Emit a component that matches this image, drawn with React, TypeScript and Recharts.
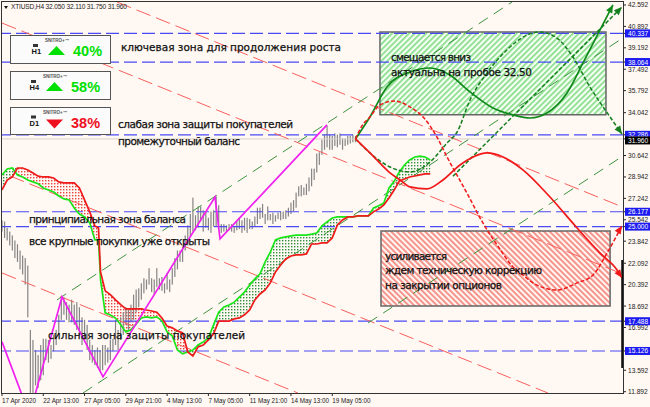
import { Area, Bar, ComposedChart, Line, ReferenceArea, ReferenceLine, XAxis, YAxis } from "recharts";

// bar index of each x axis label (one label every 16 H4 bars)
const timeTicks = [0, 16, 32, 48, 64, 80, 96, 112, 128];
const timeLabels = ["17 Apr 2020", "22 Apr 13:00", "27 Apr 05:00", "29 Apr 21:00", "4 May 13:00", "7 May 05:00", "11 May 21:00", "14 May 13:00", "19 May 05:00"];
const priceTicks = [42.592, 40.892, 39.192, 37.492, 35.792, 34.042, 30.642, 28.942, 27.242, 25.542, 23.842, 22.092, 20.392, 18.692, 16.992, 13.592, 11.892];
const levels = [40.337, 38.064, 32.286, 26.177, 25.0, 17.488, 15.126];
const lastPrice = 31.96;

const highs = [
  25.5, 25.4, 24.9, 24.6, 24.3, 23.9, 23.6, 23.1, 22.7, 22.5,
  21.9, 16.8, 16.0, 15.2, 14.8, 15.6, 16.1, 16.1, 16.0, 15.6,
  16.4, 16.8, 18.0, 19.2, 19.4, 19.0, 18.8, 19.2, 18.8, 19.0,
  18.6, 17.8, 17.6, 17.2, 16.0, 15.6, 15.2, 15.4, 15.2, 15.6,
  15.6, 15.4, 16.0, 16.1, 17.6, 16.8, 17.8, 18.2, 18.6, 18.4,
  18.8, 19.6, 20.0, 20.1, 20.5, 20.9, 20.8, 21.7, 20.9, 20.8,
  21.7, 20.9, 21.0, 20.5, 21.3, 20.8, 21.7, 22.5, 23.1, 23.1,
  23.4, 24.3, 25.1, 26.0, 27.3, 25.9, 26.6, 26.6, 26.3, 26.2,
  25.7, 26.2, 26.3, 27.4, 26.7, 25.2, 25.2, 25.1, 25.2, 25.2,
  25.0, 25.4, 25.7, 25.5, 25.7, 25.7, 25.6, 25.4, 25.8, 26.5,
  26.5, 26.8, 26.0, 26.6, 26.0, 26.1, 25.9, 26.1, 26.2, 26.2,
  26.3, 26.5, 26.9, 27.1, 27.7, 28.2, 28.3, 28.1, 28.4, 28.9,
  29.6, 29.6, 30.8, 30.9, 31.9, 32.3, 33.0, 32.3, 32.2, 32.4,
  32.3, 32.4, 32.0, 32.0, 32.2, 32.2, 32.3, 32.2,
];
const lows = [
  24.6, 24.1, 23.9, 23.5, 23.1, 22.5, 22.2, 21.6, 21.2, 20.4,
  17.8, 11.8, 11.8, 12.4, 12.2, 12.8, 13.2, 14.4, 14.2, 14.5,
  15.1, 15.6, 16.4, 17.6, 18.0, 17.6, 17.4, 17.4, 17.2, 16.8,
  16.4, 15.6, 16.0, 15.2, 14.4, 14.2, 14.0, 13.8, 13.5, 13.6,
  14.0, 14.2, 14.4, 15.1, 15.6, 15.2, 16.0, 16.4, 17.2, 16.8,
  17.4, 17.6, 18.2, 18.6, 19.2, 19.7, 20.0, 20.4, 19.8, 19.6,
  20.2, 20.0, 19.9, 19.7, 20.0, 19.8, 20.4, 21.0, 21.6, 22.2,
  22.2, 23.1, 23.5, 24.2, 24.6, 24.7, 24.9, 25.4, 24.6, 24.9,
  24.7, 24.5, 25.0, 25.0, 24.9, 24.5, 24.6, 24.6, 24.7, 24.6,
  24.5, 24.7, 24.8, 24.5, 24.7, 24.5, 24.8, 24.8, 25.0, 25.2,
  25.6, 25.7, 25.2, 25.5, 25.5, 25.2, 25.4, 25.6, 25.5, 25.6,
  25.6, 25.8, 26.0, 26.2, 26.5, 27.4, 27.4, 27.5, 27.5, 27.8,
  28.2, 28.7, 29.3, 29.9, 30.7, 31.1, 31.3, 31.1, 31.1, 31.4,
  31.3, 31.5, 31.1, 31.4, 31.5, 31.6, 31.7, 31.7,
];

// ichimoku cloud, both spans share these bars
const cloudBars = [
  0, 2, 4, 6, 8, 10, 12, 14, 16, 18, 20, 22, 24, 26, 28, 30, 32, 34, 36, 37.4, 38.2,
  40, 42, 44, 46, 48, 50, 52, 54, 56, 58, 60, 62, 64, 66, 68, 70, 72, 74, 76, 78, 80,
  82, 84, 86, 88, 90, 92, 94, 96, 98, 100, 102, 104, 106, 108, 110, 112, 114, 116, 118, 120,
  122, 124, 126, 128, 130, 132, 134, 136, 138, 140, 142, 144, 146, 148, 150, 152, 154, 156, 158, 160, 162, 164, 166,
];
const spanRed = [
  27.91, 28.7, 28.94, 29.65, 29.65, 29.5, 29.25, 29.0, 28.94, 28.94, 28.86, 28.55, 28.47, 28.47, 28.47, 28.07, 27.12, 26.17, 25.05, 24.9, 21.4,
  19.9, 19.6, 19.18, 18.8, 18.47, 18.47, 18.47, 18.47, 18.38, 18.3, 18.2, 17.75, 17.1, 16.96, 16.72, 16.56, 15.05, 14.73, 15.45, 15.6, 16.0,
  16.48, 17.5, 17.5, 17.5, 17.67, 17.75, 18.0, 18.38, 19.18, 19.65, 19.97, 20.53, 21.4, 21.95, 22.43, 22.67, 22.75, 22.75, 22.83, 23.62,
  23.62, 23.7, 23.7, 24.1, 25.13, 25.53, 25.77, 25.77, 25.85, 25.85, 25.85, 26.17, 26.4, 26.72, 27.27, 27.9, 28.62, 28.78, 28.94, 29.02, 29.1, 29.18, 29.18,
];
const spanGreen = [
  29.1, 29.57, 29.65, 29.1, 28.94, 28.7, 28.55, 28.4, 28.07, 27.9, 27.75, 27.43, 27.2, 27.12, 26.48, 26.0, 25.77, 25.3, 23.94, 23.94, 20.77,
  18.15, 17.98, 17.74, 17.2, 16.64, 16.8, 17.27, 17.75, 17.83, 17.75, 17.83, 17.51, 16.64, 16.32, 15.2, 14.9, 15.05, 15.2, 15.6, 15.85, 16.15,
  17.2, 18.2, 18.62, 18.77, 19.0, 19.4, 19.8, 20.37, 20.85, 21.25, 22.2, 22.98, 23.94, 24.1, 24.18, 24.26, 24.33, 24.33, 24.33, 24.4,
  24.49, 25.05, 25.37, 25.68, 25.77, 25.77, 25.77, 25.77, 25.85, 25.85, 25.85, 26.48, 26.65, 26.88, 28.07, 28.6, 29.33, 29.89, 30.29, 30.53, 30.6, 30.53, 30.29,
];

const zigzagBars = [0, 10.66, 23.26, 39.15, 82.56, 84.5, 125.97];
const zigzagPrices = [15.85, 10.05, 19.42, 13.07, 27.35, 24.02, 33.07];

const redChannels = [
  { bars: [44.6, 239.5], prices: [42.83, 26.64] },
  { bars: [0, 239.5], prices: [41.16, 21.32] },
  { bars: [3.1, 211.6], prices: [29.02, 11.79] },
  { bars: [0, 114.7], prices: [21.32, 11.79] },
];
const greenChannels = [
  { bars: [21.3, 197.7], prices: [19.18, 42.83] },
  { bars: [31.4, 239.5], prices: [11.79, 39.82] },
  { bars: [141.9, 239.5], prices: [17.35, 30.45] },
];

// forecast paths drawn by hand on the original
const redPathBars = [137, 142.6, 145.3, 150.4, 154.3, 158.1, 164.7, 170.9, 177.5, 182.6, 188, 194.2, 201.9, 212.4, 222.9, 231.8, 238.4, 240.3];
const redPathPrices = [31.96, 30.85, 30.29, 29.26, 28.7, 28.15, 27.99, 28.7, 29.89, 30.53, 30.85, 30.53, 29.5, 27.35, 24.89, 22.9, 21.56, 20.93];
const redDashBars = [137, 139.5, 142.6, 146.5, 152.3, 158.1, 163.2, 168.6, 172.5, 180.2, 186.4, 191.9, 198.1, 201.9, 205.8, 215.1, 222.9, 229.1, 234.5, 240.3];
const redDashPrices = [31.96, 32.99, 33.7, 34.66, 34.97, 34.5, 33.7, 32.11, 30.53, 27.67, 25.29, 23.54, 21.8, 21.16, 20.53, 19.97, 20.53, 21.16, 22.9, 25.06];
const greenPathBars = [137, 142.6, 149.2, 158.1, 165.9, 173.6, 181.4, 190.3, 198.1, 204.7, 211.2, 219, 225.2, 231.8, 236.8];
const greenPathPrices = [31.96, 33.7, 36.08, 37.27, 37.59, 37.03, 35.69, 34.42, 33.87, 33.62, 34.02, 35.61, 37.99, 40.61, 42.6];
const greenDashBars = [137, 142.6, 150.4, 158.1, 165.9, 172.5, 176.4, 181.4, 188, 195.7, 203.5, 208.5, 215.1, 221.3, 227.9, 235.7, 240.3];
const greenDashPrices = [31.96, 30.85, 29.73, 29.34, 30.13, 31.64, 32.51, 35.05, 37.2, 39.02, 40.21, 40.45, 39.97, 38.46, 36.08, 33.7, 32.35];
const greenRayBars = [174.8, 240.3];
const greenRayPrices = [29.0, 42.43];
const scaleBarBars = [240.4, 240.4];
const scaleBarPrices = [22.35, 13.78];

const priceBars = highs.map((h, i) => ({ bar: i, range: [lows[i], h] }));
const cloud = cloudBars.map((bar, i) => {
  const top = Math.max(spanRed[i], spanGreen[i]);
  return { bar, red: spanRed[i], green: spanGreen[i], bear: [spanGreen[i], top], bull: [spanRed[i], top] };
});
const toPoints = (bars: number[], prices: number[]) => bars.map((bar, i) => ({ bar, price: prices[i] }));

const UI_FONT = "'Liberation Sans', sans-serif";

function PriceTick({ x, y, payload }: any) {
  const v = payload.value;
  const isLast = v === lastPrice;
  const boxed = levels.includes(v) || isLast;
  const left = 625;
  // the last price box sits just under the 32.286 box, as in the terminal
  const my = isLast ? y + 1.5 : y;
  return (
    <g>
      <line x1={623} x2={626} y1={y} y2={y} stroke="#222" />
      {boxed && <rect x={left} y={my - 4} width={25} height={8} fill={isLast ? "#000" : "#1c1cf0"} />}
      <text x={left + 3} y={my + 2.5} fontSize={6.6} fontFamily={UI_FONT} fill={boxed ? "#fff" : "#222"}>
        {v.toFixed(3)}
      </text>
    </g>
  );
}

function TimeTick({ x, payload }: any) {
  const i = timeTicks.indexOf(payload.value);
  return (
    <g>
      <line x1={x} x2={x} y1={393} y2={396} stroke="#222" />
      <text x={x} y={403} fontSize={6.3} fontFamily={UI_FONT} fill="#222">
        {timeLabels[i]}
      </text>
    </g>
  );
}

// one thin stroke per bar, centred on the slot recharts gives it
function HighLowBar({ x, y, width, height }: any) {
  return <rect x={x + width / 2 - 0.6} y={y} width={1.2} height={Math.abs(height)} fill="#858585" />;
}

// arrowhead on the last point of a forecast path
const arrowDot = (last: number, color: string, angle: number) => (props: any) => {
  const { cx, cy, index } = props;
  if (index !== last) return <g key={index} />;
  return (
    <polygon
      key={index}
      points="0,0 -8,-3.5 -8,3.5"
      fill={color}
      transform={`translate(${cx},${cy}) rotate(${angle})`}
    />
  );
};

function Note({ x, y, w, children }: { x: number; y: number; w: number; children: string }) {
  return (
    <text x={x} y={y} textLength={w} lengthAdjust="spacing" fontSize={10.5} fontFamily="'DejaVu Sans', sans-serif" fill="#111" stroke="#111" strokeWidth={0.25}>
      {children}
    </text>
  );
}

function Panel({ y, h, dx, tf, pct, up }: { y: number; h: number; dx: number; tf: string; pct: string; up: boolean }) {
  const color = up ? "#00e000" : "#ee0f1f";
  const my = y + h / 2 + 2;
  return (
    <g>
      <rect x={10.5} y={y + 0.5} width={100} height={h} fill="#fbfbfb" stroke="#555" />
      <rect x={33 - dx} y={my - 7} width={5} height={3} fill="#333" />
      <text x={31.5 - dx} y={my + 3} fontSize={7.5} fontWeight={700} fontFamily={UI_FONT} fill="#111">{tf}</text>
      <text x={45 - dx} y={y + 7} fontSize={4.5} fontWeight={700} fontFamily={UI_FONT} fill="#555">SNITRO+™</text>
      <polygon
        points={up ? `${48 - dx},${my + 4} ${65 - dx},${my + 4} ${56.5 - dx},${my - 5}` : `${48 - dx},${my - 3} ${65 - dx},${my - 3} ${56.5 - dx},${my + 6}`}
        fill={color}
      />
      <text x={73 - dx} y={my + 5} fontSize={14.5} fontWeight={700} fontFamily={UI_FONT} fill={color}>{pct}</text>
    </g>
  );
}

export default function App() {
  return (
    <div style={{ position: "absolute", left: 0, top: 0, width: 650, height: 407, background: "#fff8f3", overflow: "hidden" }}>
      <ComposedChart
        width={650}
        height={407}
        data={priceBars}
        margin={{ top: 2, right: 0, bottom: 0, left: 2 }}
      >
        <defs>
          <pattern id="greenHatch" width="4" height="4" patternUnits="userSpaceOnUse" patternTransform="rotate(45)">
            <rect width="4" height="4" fill="#f6fff4" />
            <rect width="1.7" height="4" fill="#86dc88" />
          </pattern>
          <pattern id="redHatch" width="4" height="4" patternUnits="userSpaceOnUse" patternTransform="rotate(-45)">
            <rect width="4" height="4" fill="#fff6f0" />
            <rect width="1.8" height="4" fill="#f58a84" />
          </pattern>
          <pattern id="redDots" width="3" height="3" patternUnits="userSpaceOnUse">
            <rect width="1.4" height="1.4" fill="#e8413c" />
          </pattern>
          <pattern id="greenDots" width="3" height="3" patternUnits="userSpaceOnUse">
            <rect width="1.4" height="1.4" fill="#2f8f3a" />
          </pattern>
        </defs>
        <XAxis
          type="number"
          dataKey="bar"
          domain={[0, 240.7]}
          allowDataOverflow
          ticks={timeTicks}
          interval={0}
          height={14}
          axisLine={false}
          tickLine={false}
          tick={<TimeTick />}
        />
        <YAxis
          orientation="right"
          domain={[11.79, 42.83]}
          allowDataOverflow
          ticks={[...priceTicks, ...levels, lastPrice]}
          interval={0}
          width={27}
          axisLine={false}
          tickLine={false}
          tick={<PriceTick />}
        />
        <ReferenceLine y={lastPrice} stroke="#d8cfc9" />
        {levels.map((v) => (
          <ReferenceLine key={v} y={v} stroke="#4a4af5" strokeWidth={1.2} strokeDasharray="13 5" />
        ))}
        <ReferenceArea x1={146.5} x2={234.1} y1={33.87} y2={40.45} fill="url(#greenHatch)" fillOpacity={1} stroke="#666" strokeWidth={1.5} />
        <ReferenceArea x1={146.9} x2={235.7} y1={18.7} y2={24.66} fill="url(#redHatch)" fillOpacity={1} stroke="#666" strokeWidth={1.5} />

        {redChannels.map((c, i) => (
          <Line key={`r${i}`} data={toPoints(c.bars, c.prices)} dataKey="price" stroke="#f9605c" strokeWidth={1} strokeDasharray="15 6" dot={false} legendType="none" isAnimationActive={false} />
        ))}
        {greenChannels.map((c, i) => (
          <Line key={`g${i}`} data={toPoints(c.bars, c.prices)} dataKey="price" stroke="#3d9440" strokeWidth={1} strokeDasharray="11 7" dot={false} legendType="none" isAnimationActive={false} />
        ))}

        <Bar dataKey="range" shape={<HighLowBar />} isAnimationActive={false} />

        <Area data={cloud} dataKey="bear" stroke="none" fill="url(#redDots)" fillOpacity={1} isAnimationActive={false} />
        <Area data={cloud} dataKey="bull" stroke="none" fill="url(#greenDots)" fillOpacity={1} isAnimationActive={false} />
        <Line data={cloud} dataKey="green" stroke="#19e619" strokeWidth={1.7} dot={false} isAnimationActive={false} />
        <Line data={cloud} dataKey="red" stroke="#ef1a1a" strokeWidth={1.7} dot={false} isAnimationActive={false} />

        <Line data={toPoints(zigzagBars, zigzagPrices)} dataKey="price" stroke="#f020f0" strokeWidth={1.7} dot={false} isAnimationActive={false} />

        <Line data={toPoints(greenRayBars, greenRayPrices)} dataKey="price" stroke="#157f1f" strokeWidth={1.5} strokeDasharray="4 2" dot={arrowDot(1, "#157f1f", -45)} isAnimationActive={false} />
        <Line type="monotone" data={toPoints(greenDashBars, greenDashPrices)} dataKey="price" stroke="#157f1f" strokeWidth={1.5} strokeDasharray="4 2" dot={arrowDot(16, "#157f1f", 55)} isAnimationActive={false} />
        <Line type="monotone" data={toPoints(greenPathBars, greenPathPrices)} dataKey="price" stroke="#0f8a1a" strokeWidth={1.7} dot={arrowDot(14, "#0f8a1a", -62)} isAnimationActive={false} />
        <Line type="monotone" data={toPoints(redDashBars, redDashPrices)} dataKey="price" stroke="#f01818" strokeWidth={1.5} strokeDasharray="4 2" dot={arrowDot(19, "#f01818", -58)} isAnimationActive={false} />
        <Line type="monotone" data={toPoints(redPathBars, redPathPrices)} dataKey="price" stroke="#f01818" strokeWidth={1.7} dot={arrowDot(17, "#f01818", 55)} isAnimationActive={false} />
        <Line data={toPoints(scaleBarBars, scaleBarPrices)} dataKey="price" stroke="#111" strokeWidth={2} dot={false} isAnimationActive={false} />
      </ComposedChart>

      <svg width={650} height={407} style={{ position: "absolute", left: 0, top: 0, pointerEvents: "none" }}>
        <rect x={1.5} y={1.5} width={622} height={392} fill="none" stroke="#333" />
        <polygon points="4,6 8,6 6,9" fill="#111" />
        <text x={11} y={9} fontSize={6.6} fontFamily={UI_FONT} fill="#222" textLength={116}>XTIUSD,H4  32.050 32.110 31.750 31.960</text>

        <Panel y={35} h={28} dx={0} tf="H1" pct="40%" up />
        <Panel y={71} h={28} dx={2} tf="H4" pct="58%" up />
        <Panel y={107} h={27} dx={2} tf="D1" pct="38%" up={false} />

        <Note x={121} y={51} w={220}>ключевая зона для продолжения роста</Note>
        <Note x={118} y={128} w={175}>слабая зона защиты покупателей</Note>
        <Note x={118} y={145} w={122}>промежуточный баланс</Note>
        <Note x={29} y={223} w={157}>принципиальная зона баланса</Note>
        <Note x={29} y={245} w={181}>все крупные покупки уже открыты</Note>
        <Note x={48} y={339} w={197}>сильная зона защиты покупателей</Note>
        <Note x={391} y={61} w={80}>смещается вниз</Note>
        <Note x={391} y={76} w={141}>актуальна на пробое 32.50</Note>
        <Note x={385} y={260} w={62}>усиливается</Note>
        <Note x={385} y={274} w={157}>ждем техническую коррекцию</Note>
        <Note x={385} y={289} w={117}>на закрытии опционов</Note>
      </svg>
    </div>
  );
}
